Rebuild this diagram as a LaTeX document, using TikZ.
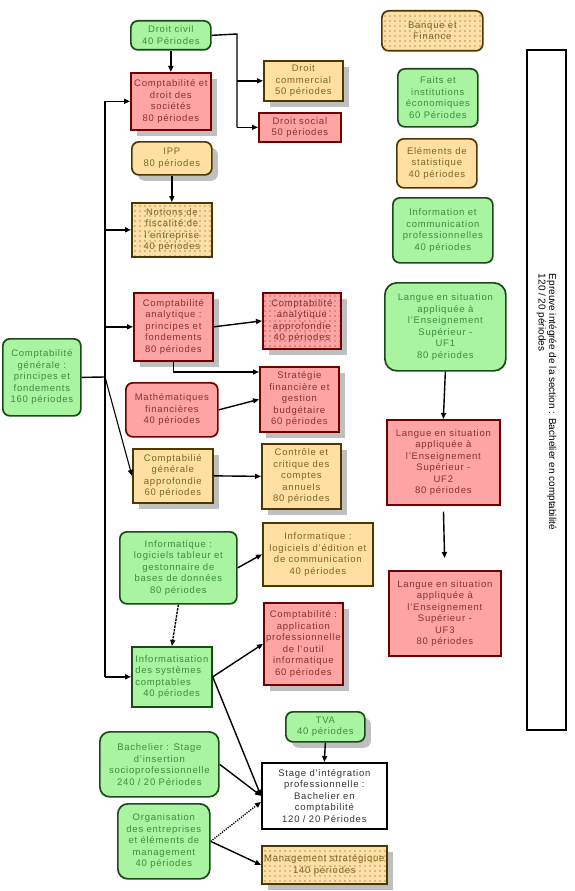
\documentclass[tikz,border=0pt]{standalone}
\usepackage{fontspec}
\setmainfont{Liberation Sans}[LetterSpace=8]
\newfontfamily\epfont{Liberation Sans}
\usetikzlibrary{arrows.meta,shadows,patterns.meta}
\definecolor{gfill}{HTML}{A8F4A0}
\definecolor{gdraw}{HTML}{1A4A1A}
\definecolor{gtext}{HTML}{3A8F3A}
\definecolor{rfill}{HTML}{FFA4A4}
\definecolor{rdraw}{HTML}{6E0000}
\definecolor{rtext}{HTML}{8E2E2E}
\definecolor{yfill}{HTML}{FFE0A2}
\definecolor{ydraw}{HTML}{4C3800}
\definecolor{ytext}{HTML}{7C6428}
\definecolor{wtext}{HTML}{333333}
\tikzset{
  base/.style={draw, line width=1.7pt, inner sep=1pt, align=center, anchor=north west,
    font=\fontsize{9.5}{11.5}\selectfont},
  sz/.style 2 args={minimum width=#1pt, minimum height=#2pt},
  grn/.style={base, fill=gfill, draw=gdraw, text=gtext},
  red/.style={base, fill=rfill, draw=rdraw, text=rtext},
  ylw/.style={base, fill=yfill, draw=ydraw, text=ytext},
  wht/.style={base, fill=white, draw=black, text=wtext},
  rnd/.style={rounded corners=7pt},
  dotfill/.style={postaction={pattern={Dots[distance=5pt,radius=0.55pt]}, pattern color=black!75}},
  shad/.style={drop shadow={shadow xshift=6pt, shadow yshift=-6pt, fill=gray!50, opacity=1}},
  ln/.style={line width=1.4pt, draw=black},
  arr/.style={-{Triangle[length=6pt,width=5pt]}},
}
\begin{document}
\begin{tikzpicture}[x=1pt,y=-1pt]
\fill[white] (0,0) rectangle (575,891);
\useasboundingbox (0,0) rectangle (575,891);

% column 1-2 top
\node[grn,rnd,sz={80}{29}] (dc) at (130,20) {Droit civil\\40 Périodes};
\node[red,shad,sz={80}{57}] (cds) at (130,72) {Comptabilité et\\droit des\\sociétés\\80 périodes};
\node[ylw,shad,sz={79}{40}] (dcom) at (263,60) {Droit\\commercial\\50 périodes};
\node[red,sz={82}{29}] (dsoc) at (258,112) {Droit social\\50 périodes};
\node[ylw,rnd,shad,sz={80}{33}] (ipp) at (131,141) {IPP\\80 périodes};
\node[ylw,dotfill,sz={80}{54}] (nfe) at (131,202) {Notions de\\fiscalité de\\l'entreprise\\40 périodes};

% right column
\node[ylw,rnd,dotfill,sz={101}{40}] (bf) at (381,10) {Banque et\\Finance};
\node[grn,rnd,sz={80}{58}] (fie) at (397,68) {Faits et\\institutions\\économiques\\60 Périodes};
\node[ylw,rnd,sz={80}{49}] (es) at (396,138) {Eléments de\\statistique\\40 périodes};
\node[grn,rnd,sz={100}{65}] (icp) at (392,197) {Information et\\communication\\professionnelles\\40 périodes};
\node[grn,rounded corners=12pt,sz={121}{88}] (uf1) at (384,282) {Langue en situation\\appliquée à\\l'Enseignement\\Supérieur -\\UF1\\80 périodes};
\node[red,sz={113}{85}] (uf2) at (386,419) {Langue en situation\\appliquée à\\l'Enseignement\\Supérieur -\\UF2\\80 périodes};
\node[red,sz={112}{85}] (uf3) at (388,570) {Langue en situation\\appliquée à\\l'Enseignement\\Supérieur -\\UF3\\80 périodes};
\node[draw=black, fill=white, line width=1.7pt, rotate=-90, minimum width=680pt, minimum height=39pt,
  align=left, text=black, font=\epfont\fontsize{10}{10.5}\selectfont] (ep) at (546.5,390)
  {\hspace*{24pt}Epreuve intégrée de la section : Bachelier en comptabilité\\\hspace*{24pt}120 / 20 périodes};

% middle
\node[grn,rnd,sz={78}{77}] (cgp) at (2,338) {Comptabilité\\générale :\\principes et\\fondements\\160 périodes};
\node[red,shad,sz={79}{68}] (cap) at (133,292) {Comptabilité\\analytique :\\principes et\\fondements\\80 périodes};
\node[red,shad,dotfill,sz={78}{56}] (caa) at (262,292) {Comptabilité\\analytique\\approfondie\\40 périodes};
\node[red,shad,sz={79}{65}] (sfg) at (259,366) {Stratégie\\financière et\\gestion\\budgétaire\\60 périodes};
\node[red,rnd,sz={92}{54}] (mf) at (125,382) {Mathématiques\\financières\\40 périodes};
\node[ylw,shad,sz={80}{54}] (cga) at (132,448) {Comptabilié\\générale\\approfondie\\60 périodes};
\node[ylw,shad,sz={79}{65}] (ccc) at (261,443) {Contrôle et\\critique des\\comptes\\annuels\\80 périodes};
\node[grn,rnd,sz={117}{72}] (itab) at (119,531) {Informatique :\\logiciels tableur et\\gestonnaire de\\bases de données\\80 périodes};
\node[ylw,sz={110}{63}] (ilog) at (262,522) {Informatique :\\logiciels d'édition et\\de communication\\40 périodes};
\node[red,shad,sz={79}{82}] (capp) at (263,602) {Comptabilité :\\application\\professionnelle\\de l'outil\\informatique\\60 périodes};
\node[grn,align=left,sz={80}{60}] (isc) at (131,646) {Informatisation\\des systèmes\\comptables\\\hspace*{8pt}40 périodes};

% bottom
\node[grn,rnd,shad,sz={79}{30}] (tva) at (285,711) {TVA\\40 périodes};
\node[wht,sz={125}{66}] (sip) at (261,762) {Stage d'intégration\\professionnelle :\\Bachelier en\\comptabilité\\120 / 20 Périodes};
\node[grn,rounded corners=10pt,sz={119}{65}] (bsi) at (99,731) {Bachelier : Stage\\d'insertion\\socioprofessionnelle\\240 / 20 Périodes};
\node[grn,rounded corners=10pt,sz={92}{75}] (oem) at (117,803) {Organisation\\des entreprises\\et éléments de\\management\\40 périodes};
\node[ylw,shad,dotfill,sz={125}{38}] (ms) at (261,845) {Management stratégique\\140 périodes};

% connectors
\draw[ln,arr] (dc.south) -- (cds.north);
\coordinate (dcj) at (237,34);
\draw[ln] (dc.east) -- (dcj) -- (dcj |- dsoc.west);
\draw[ln,arr] (dcj |- dcom.west) -- (dcom.west);
\draw[ln,arr] (dcj |- dsoc.west) -- (dsoc.west);
\draw[ln,arr] (ipp.south) -- (nfe.north);

\coordinate (tr) at (105,377);
\draw[ln] (cgp.east) -- (tr);
\draw[ln] (tr |- cds.west) -- (tr |- isc.west);
\draw[ln,arr] (tr |- cds.west) -- (cds.west);
\draw[ln,arr] (tr |- nfe.west) -- (nfe.west);
\draw[ln,arr] (tr |- cap.west) -- (cap.west);
\draw[ln,arr] (tr |- isc.west) -- (isc.west);
\draw[ln,arr,line width=1.1pt] (tr) -- (cga.west);

\draw[ln,arr] (cap.east) -- (caa.west);
\draw[ln,arr] (cap.south) |- ([yshift=-6pt]sfg.north west);
\draw[ln,arr] (mf.east) -- (sfg.west);
\draw[ln,arr] (cga.east) -- (ccc.west);
\draw[ln,arr] (itab.east) -- (ilog.west);
\draw[ln,arr,dash pattern=on 2.5pt off 1pt] (itab.south) -- (isc.north);
\draw[ln,arr] (isc.east) -- (capp.west);
\draw[ln,arr] (isc.east) -- (sip.west);
\draw[ln,arr] (bsi.east) -- (sip.west);
\draw[ln,arr,dash pattern=on 1.2pt off 1.2pt] (oem.east) -- ([yshift=-6pt]sip.west);
\draw[ln,arr] (oem.east) -- (ms.west);
\draw[ln,arr] (tva.south) -- (sip.north);
\draw[ln,arr] (uf1.south) -- (uf2.north);
\draw[ln,arr,shorten <=6pt,shorten >=12pt] (uf2.south) -- (uf3.north);
\end{tikzpicture}
\end{document}
